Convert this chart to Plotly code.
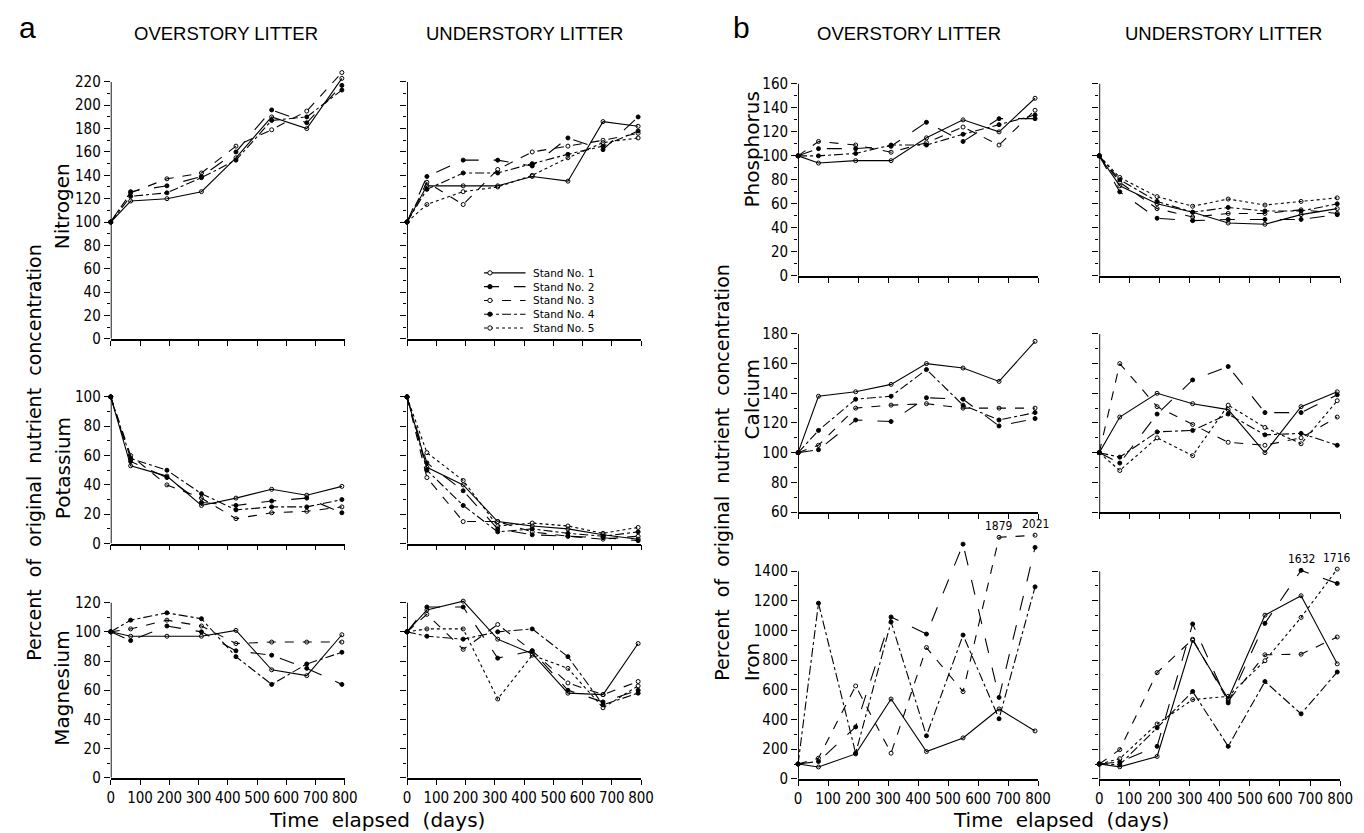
import plotly.graph_objects as go

W, H = 1364, 833

# ---------------- data ----------------
days = [0, 68, 192, 310, 428, 550, 670, 790]
stand_names = ["Stand No. 1", "Stand No. 2", "Stand No. 3", "Stand No. 4", "Stand No. 5"]

# Nitrogen
nitrogen_over = [
    [100, 118, 120, 126, 155, 190, 180, 223],
    [100, 126, 131, 139, 160, 196, 185, 217],
    [100, 125, 137, 142, 165, 179, 195, 228],
    [100, 122, 125, 138, 153, 187, 190, 213],
]
nitrogen_under = [
    [100, 131, 131, 131, 139, 135, 186, 182],
    [100, 139, 153, 153, 148, 172, 162, 190],
    [100, 134, 115, 145, 160, 165, 170, 176],
    [100, 128, 142, 142, 150, 158, 165, 178],
    [100, 115, 126, 130, 140, 155, 168, 172],
]
# Potassium
potassium_over = [
    [100, 53, 46, 26, 31, 37, 33, 39],
    [100, 56, 45, 28, 26, 29, 31, 21],
    [100, 60, 40, 31, 17, 21, 22, 25],
    [100, 58, 50, 34, 23, 25, 25, 30],
]
potassium_under = [
    [100, 52, 40, 15, 12, 10, 6, 3],
    [100, 55, 36, 10, 6, 5, 4, 2],
    [100, 45, 15, 15, 8, 5, 3, 5],
    [100, 50, 26, 8, 10, 7, 5, 8],
    [100, 62, 43, 12, 14, 12, 7, 11],
]
# Magnesium
magnesium_over = [
    [100, 97, 97, 97, 101, 74, 70, 98],
    [100, 94, 104, 100, 87, 84, 75, 64],
    [100, 102, 108, 104, 92, 93, 93, 93],
    [100, 108, 113, 109, 83, 64, 78, 86],
]
magnesium_under = [
    [100, 115, 121, 95, 85, 58, 57, 92],
    [100, 117, 117, 82, 87, 60, 52, 60],
    [100, 112, 88, 105, 87, 65, 57, 66],
    [100, 97, 95, 100, 102, 83, 50, 58],
    [100, 102, 102, 54, 84, 75, 48, 63],
]
# Phosphorus
phosphorus_over = [
    [100, 94, 96, 96, 115, 130, 120, 148],
    [100, 106, 106, 108, 128, 112, 131, 131],
    [100, 112, 109, 103, 111, 124, 109, 138],
    [100, 100, 102, 109, 109, 118, 126, 134],
]
phosphorus_under = [
    [100, 75, 60, 53, 44, 43, 51, 56],
    [100, 70, 48, 46, 47, 47, 47, 51],
    [100, 78, 56, 49, 52, 52, 55, 52],
    [100, 80, 62, 53, 57, 54, 54, 60],
    [100, 82, 66, 58, 64, 59, 62, 65],
]
# Calcium
calcium_over = [
    [100, 138, 141, 146, 160, 157, 148, 175],
    [100, 102, 122, 121, 137, 136, 118, 123],
    [100, 105, 130, 132, 133, 130, 130, 130],
    [100, 115, 136, 138, 156, 132, 122, 127],
]
calcium_under = [
    [100, 124, 140, 133, 129, 100, 131, 141],
    [100, 93, 126, 149, 158, 127, 127, 139],
    [100, 160, 131, 119, 107, 105, 110, 124],
    [100, 97, 114, 115, 126, 112, 113, 105],
    [100, 88, 110, 98, 132, 117, 106, 135],
]
# Iron
iron_over = [
    [100, 80, 168, 538, 184, 276, 471, 323],
    [100, 117, 350, 1091, 976, 1582, 549, 1560],
    [100, 139, 626, 173, 885, 588, 1879, 2021],
    [100, 1184, 173, 1058, 290, 969, 405, 1294],
]
iron_under = [
    [100, 81, 151, 934, 540, 1103, 1234, 775],
    [100, 114, 219, 1044, 512, 1048, 1632, 1317],
    [100, 197, 716, 941, 525, 836, 840, 956],
    [100, 96, 344, 589, 219, 656, 438, 720],
    [100, 136, 370, 534, 556, 796, 1088, 1716],
]

# ---------------- styles ----------------
line_dashes = ["solid", "longdash", "dash", "dashdot", "dot"]
marker_symbols = ["circle-open", "circle", "circle-open", "circle", "circle-open"]
FONT = "DejaVu Sans"
TICKFONT = "DejaVu Sans Condensed, DejaVu Sans"

# column pixel extents (x=0 .. x=800)
cols = {"a_over": (100, 337), "a_under": (400, 637),
        "b_over": (796, 1039), "b_under": (1101, 1345)}
# rows: (bottom px, top tick px, tick lo, tick hi, range hi, dtick, minor)
rows = {
    "N": (332, 71, 0, 220, 232, 20, 10),
    "K": (540, 391, 0, 100, 104, 20, 10),
    "Mg": (778, 600, 0, 120, 125, 20, 10),
    "P": (268, 73, 0, 160, 165, 20, 10),
    "Ca": (508, 327, 60, 180, 183, 20, 10),
    "Fe": (779, 568, 0, 1400, 1680, 200, 100),
}

# broken-axis display for very high iron values (true value shown as label)
def iron_display(v, cut):
    return v if v <= cut else cut + (v - cut) * 0.1

panels = [
    ("a_over", "N", nitrogen_over, False, None),
    ("a_under", "N", nitrogen_under, False, None),
    ("a_over", "K", potassium_over, False, None),
    ("a_under", "K", potassium_under, False, None),
    ("a_over", "Mg", magnesium_over, True, None),
    ("a_under", "Mg", magnesium_under, True, None),
    ("b_over", "P", phosphorus_over, False, None),
    ("b_under", "P", phosphorus_under, False, None),
    ("b_over", "Ca", calcium_over, False, None),
    ("b_under", "Ca", calcium_under, False, None),
    ("b_over", "Fe", iron_over, True, 1600),
    ("b_under", "Fe", iron_under, True, 1380),
]

fig = go.Figure()
layout = dict(
    width=W, height=H, margin=dict(l=0, r=0, t=0, b=0),
    paper_bgcolor="white", plot_bgcolor="white",
    font=dict(family=FONT, color="black"),
    showlegend=False,
)
shapes = []
annotations = []

for i, (col, row, series, xlabels, cut) in enumerate(panels, start=1):
    xs = "" if i == 1 else str(i)
    xa, ya = "x" + xs, "y" + xs
    x0p, x1p = cols[col]
    yb, yt, lo, hi, rhi, dt, mn = rows[row]
    scale = (yb - yt) / (hi - lo)
    top_px = yb - (rhi - lo) * scale
    layout["xaxis" + xs] = dict(
        domain=[x0p / W, x1p / W], range=[0, 800], anchor=ya,
        showline=True, linecolor="black", linewidth=1.8, showgrid=False, zeroline=False,
        tickmode="array", tickvals=list(range(0, 801, 100)),
        ticks="outside", ticklen=5, tickwidth=1.3, tickcolor="black",
        showticklabels=xlabels, tickfont=dict(family=TICKFONT, size=15),
    )
    under = col.endswith("under")
    layout["yaxis" + xs] = dict(
        domain=[1 - yb / H, 1 - top_px / H], range=[lo, rhi], anchor=xa,
        showline=False, showgrid=False, zeroline=False,
        tickmode="array", tickvals=list(range(lo, hi + 1, dt)),
        ticks="outside", ticklen=6, tickwidth=1.3, tickcolor="black",
        minor=dict(tickmode="array", tickvals=list(range(lo, hi + 1, mn)),
                   ticks="outside", ticklen=3, tickcolor="black", tickwidth=1),
        showticklabels=not under, tickfont=dict(family=TICKFONT, size=15),
    )
    shapes.append(dict(type="line", xref=xa, yref=ya, x0=0, x1=0, y0=lo, y1=hi,
                       line=dict(color="black", width=1.8)))
    for s, vals in enumerate(series):
        yv = [iron_display(v, cut) for v in vals] if cut else vals
        fig.add_trace(go.Scatter(
            x=days, y=yv, xaxis=xa, yaxis=ya, mode="lines+markers",
            name=stand_names[s], legendgroup=stand_names[s], showlegend=False,
            line=dict(color="black", width=1.1, dash=line_dashes[s]),
            marker=dict(symbol=marker_symbols[s], size=4, color="black",
                        line=dict(color="black", width=1)),
            cliponaxis=False,
        ))
        if cut:
            for d, v, dv in zip(days, vals, yv):
                if v > cut:
                    annotations.append(dict(
                        x=d, y=dv, xref=xa, yref=ya, text=str(v), showarrow=False,
                        yshift=11, font=dict(family=TICKFONT, size=12)))

# ---- key (legend) drawn inside the understory nitrogen panel ----
LEG_X0, LEG_X1, LEG_TXT, LEG_Y0, LEG_DY = 478, 520, 526, 265, 14
for s, nm in enumerate(stand_names):
    yk = LEG_Y0 + s * LEG_DY
    shapes.append(dict(type="line", xref="paper", yref="paper",
                       x0=LEG_X0 / W, x1=LEG_X1 / W, y0=1 - yk / H, y1=1 - yk / H,
                       line=dict(color="black", width=1.1, dash=line_dashes[s])))
    xm = (LEG_X0 + 6)
    shapes.append(dict(type="circle", xref="paper", yref="paper",
                       x0=(xm - 2.2) / W, x1=(xm + 2.2) / W,
                       y0=1 - (yk + 2.2) / H, y1=1 - (yk - 2.2) / H,
                       fillcolor="white" if "open" in marker_symbols[s] else "black",
                       line=dict(color="black", width=1)))
    annotations.append(dict(text=nm, x=LEG_TXT / W, y=1 - yk / H, xref="paper", yref="paper",
                            xanchor="left", yanchor="middle", showarrow=False,
                            font=dict(family=FONT, size=10.5)))

layout["shapes"] = shapes


def ann(text, xp, yp, size, angle=0, family=FONT):
    annotations.append(dict(text=text, x=xp / W, y=1 - yp / H, xref="paper", yref="paper",
                            showarrow=False, textangle=angle, xanchor="center",
                            yanchor="middle", font=dict(family=family, size=size)))


ann("a", 16, 16, 30, family="Liberation Sans")
ann("b", 739, 16, 30, family="Liberation Sans")
ann("OVERSTORY LITTER", 217, 22, 18.5, family="Liberation Sans")
ann("UNDERSTORY LITTER", 519, 22, 18.5, family="Liberation Sans")
ann("OVERSTORY LITTER", 908, 22, 18.5, family="Liberation Sans")
ann("UNDERSTORY LITTER", 1227, 22, 18.5, family="Liberation Sans")

ann("Percent  of  original  nutrient  concentration", 22, 447, 19, -90)
ann("Percent  of  original  nutrient  concentration", 719, 468, 19, -90)
ann("Nitrogen", 51, 197, 20, -90)
ann("Potassium", 51, 463, 20, -90)
ann("Magnesium", 51, 687, 20, -90)
ann("Phosphorus", 749, 140, 20, -90)
ann("Calcium", 749, 393, 20, -90)
ann("Iron", 749, 660, 20, -90)
ann("Time  elapsed  (days)", 370, 821, 20)
ann("Time  elapsed  (days)", 1062, 821, 20)

layout["annotations"] = annotations
fig.update_layout(**layout)
fig.write_html("out.html")
